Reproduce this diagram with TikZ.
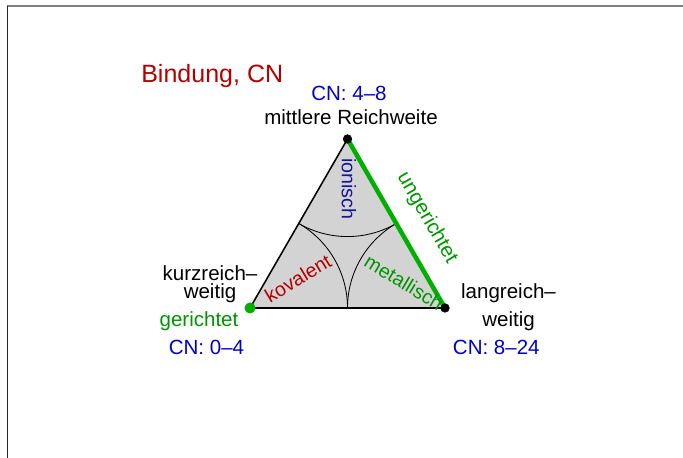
\documentclass[tikz,border=0pt]{standalone}
\usepackage{fontspec}
\setmainfont{Liberation Sans}
\usepackage{tikz}
\definecolor{titelrot}{RGB}{180,0,0}
\definecolor{cnblau}{RGB}{0,0,205}
\definecolor{ionblau}{RGB}{20,20,150}
\definecolor{gruen}{RGB}{0,175,0}
\definecolor{flaeche}{RGB}{211,211,211}

\begin{document}
\begin{tikzpicture}[x=0.025cm,y=0.025cm,
		txt/.style={inner sep=0pt,font=\fontsize{14.6}{13}\selectfont,align=center},
		innen/.style={inner sep=0pt,font=\fontsize{14}{16}\selectfont}]
		\useasboundingbox (0,0) rectangle (683,458);
		% Rahmen
		\draw[gray,line width=1.2pt] (7,452.2) -- (683,452.2);
		\draw[black!85,line width=0.9pt] (7.3,452.2) -- (7.3,0);
		% Ecken und Seitenmitten
		\coordinate (mr) at (347.5,319);
		\coordinate (kr) at (250,150);
		\coordinate (lr) at (445,150);
		\coordinate (mkr) at (298.75,234.5);
		\coordinate (mlr) at (396.25,234.5);
		\coordinate (klr) at (347.5,150);
		\fill[flaeche] (mr) -- (kr) -- (lr) -- cycle;
		\draw[line width=0.6pt] (mkr) arc[start angle=240,end angle=300,radius=97.5];
		\draw[line width=0.6pt] (mkr) arc[start angle=60,end angle=0,radius=97.5];
		\draw[line width=0.6pt] (mlr) arc[start angle=120,end angle=180,radius=97.5];
		\draw[line width=1.1pt] (kr) -- (mr);
		\draw[line width=1.5pt] (kr) -- (lr);
		\draw[gruen,line width=3.2pt] (mr) -- (lr);
		\filldraw[black] (mr) circle (4.3);
		\filldraw[black] (lr) circle (4.3);
		\filldraw[gruen] (kr) circle (5.2);
		% Beschriftung
		\node[anchor=base west,inner sep=0pt,font=\fontsize{17.8}{20}\selectfont,titelrot] (titel) at (141,375.3) {Bindung, CN};
		\node[txt,anchor=base,cnblau] (cnm) at (349,357.3) {CN: 4--8};
		\node[txt,anchor=base] (mitte) at (351,333) {mittlere Reichweite};
		\node[txt,anchor=base] (kurz) at (210,159.7) {kurzreich--\\weitig};
		\node[txt,anchor=base,gruen!85!black] (ger) at (199,131) {gerichtet};
		\node[txt,anchor=base,cnblau] (cnk) at (206.5,103) {CN: 0--4};
		\node[txt,anchor=base,font=\fontsize{14.6}{20.2}\selectfont] (lang) at (508.5,131.3) {langreich--\\weitig};
		\node[txt,anchor=base,cnblau] (cnl) at (496.3,103) {CN: 8--24};
		\node[innen,rotate=-90,ionblau] (ion) at (349,269) {ionisch};
		\node[innen,rotate=-60,gruen!85!black,font=\fontsize{14.6}{16}\selectfont] (unger) at (427,240) {ungerichtet};
		\node[innen,rotate=31,titelrot] (kov) at (298,179.7) {kovalent};
		\node[innen,rotate=-31,gruen!85!black] (met) at (404,175.7) {metallisch};
\end{tikzpicture}
\end{document}
